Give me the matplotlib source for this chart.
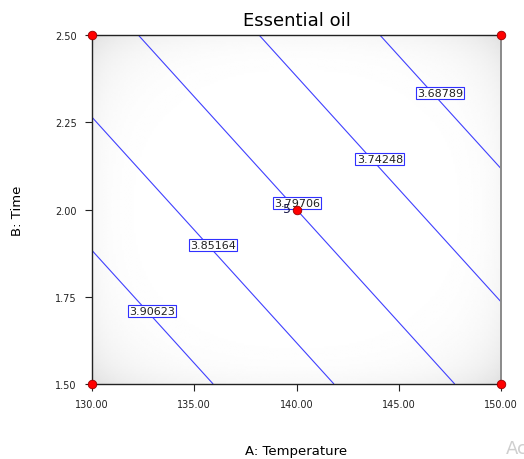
import numpy as np
import matplotlib
matplotlib.use('Agg')
import matplotlib.pyplot as plt
import matplotlib.tri as mtri

# design points (A: temperature, B: time) and response
temp = [130.0, 150.0, 130.0, 150.0, 140.0]
time = [1.50, 1.50, 2.50, 2.50, 2.00]
oil = [3.96096, 3.77616, 3.81796, 3.63316, 3.79706]

levels = [3.68789, 3.74248, 3.79706, 3.85164, 3.90623]
x_ticks = [130.0, 135.0, 140.0, 145.0, 150.0]
y_ticks = [1.50, 1.75, 2.00, 2.25, 2.50]
center_runs = 5

# where the boxed labels sit on each line
label_spots = [(147.02, 2.334), (144.08, 2.145), (140.02, 2.019), (135.92, 1.898), (132.93, 1.709)]

fig = plt.figure(figsize=(5.24, 4.6), dpi=100)
ax = fig.add_axes([0.1756, 0.163, 0.7805, 0.7587])

# soft grey vignette behind the plot
gx, gy = np.meshgrid(np.linspace(-1, 1, 200), np.linspace(-1, 1, 200))
r = np.sqrt(gx ** 2 + gy ** 2) / np.sqrt(2)
shade = 1 - 0.085 * r ** 6 - 0.02 * (np.abs(gx) ** 14 + np.abs(gy) ** 14)
ax.imshow(shade, extent=[130, 150, 1.5, 2.5], aspect='auto', cmap='gray',
          vmin=0, vmax=1, zorder=0, interpolation='bilinear')

tri = mtri.Triangulation(temp, time)
cs = ax.tricontour(tri, oil, levels=levels, colors='#4040ff', linewidths=0.8, zorder=2)
labels = ax.clabel(cs, inline=False, manual=label_spots, fmt='%.5f', fontsize=8)
for t, spot in zip(labels, label_spots):
    t.set_position(spot)
    t.set_rotation(0)
    t.set_color('#222222')
    t.set_zorder(4)
    t.set_bbox(dict(boxstyle='square,pad=0.12', fc='white', ec='#3030ff', lw=0.8))

ax.scatter(temp, time, s=38, c='red', edgecolors='#990000', linewidths=0.6,
           zorder=5, clip_on=False)
ax.annotate(str(center_runs), (temp[4], time[4]), xytext=(-6.5, 0.5), textcoords='offset points',
            ha='center', va='center', fontsize=9, color='#1a1a4a', zorder=6)

ax.set_xlim(130, 150)
ax.set_ylim(1.5, 2.5)
ax.set_xticks(x_ticks)
ax.set_yticks(y_ticks)
ax.set_xticklabels(['%.2f' % v for v in x_ticks])
ax.set_yticklabels(['%.2f' % v for v in y_ticks])
ax.tick_params(direction='out', length=5, width=0.8, labelsize=7, colors='#222222', pad=6)

for s in ['left', 'top', 'bottom']:
    ax.spines[s].set_color('#222222')
    ax.spines[s].set_linewidth(1.0)
ax.spines['right'].set_color('#8a8a8a')
ax.spines['right'].set_linewidth(1.4)

ax.set_title('Essential oil', fontsize=13, pad=7)
ax.set_xlabel('A: Temperature', fontsize=9.5, labelpad=25)
ax.set_ylabel('B: Time', fontsize=9.5, labelpad=22)

fig.text(0.965, 0.012, 'Ac', fontsize=13, color='#cfcfcf')

fig.savefig('out.png', dpi=100)
